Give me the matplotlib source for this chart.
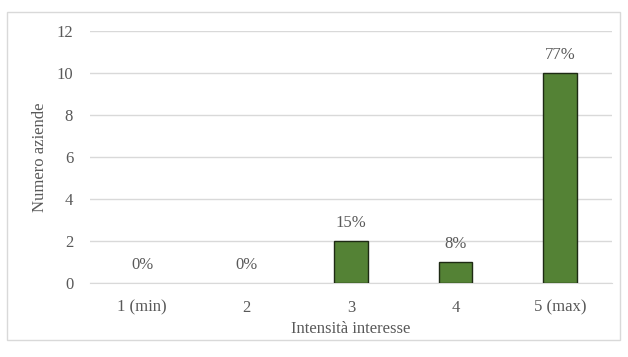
import matplotlib
matplotlib.use("Agg")
import matplotlib.pyplot as plt
from matplotlib.patches import Rectangle

categories = ["1 (min)", "2", "3", "4", "5 (max)"]
counts = [0, 0, 2, 1, 10]
percent_labels = ["0%", "0%", "15%", "8%", "77%"]

plt.rcParams["font.family"] = ["Liberation Serif", "DejaVu Serif"]
txt = "#595959"

fig = plt.figure(figsize=(6.28, 3.57), dpi=100)
fig.patches.append(Rectangle((7 / 628, 1 - 340 / 357), 613 / 628, 328 / 357,
                             transform=fig.transFigure, fill=False,
                             edgecolor="#d9d9d9", linewidth=1))
ax = fig.add_axes([0.143, 0.207, 0.832, 0.706])

x = range(len(categories))
bars = ax.bar(x, counts, width=0.32, color="#548235", edgecolor="#1e2a14",
              linewidth=1.0, zorder=3)
for b, c in zip(bars, counts):
    if c == 0:
        b.set_visible(False)
for xi, c, lab in zip(x, counts, percent_labels):
    ax.annotate(lab, (xi, c), textcoords="offset points", xytext=(0, 7),
                ha="center", va="bottom", fontsize=12, color=txt)

ax.set_xlim(-0.5, len(categories) - 0.5)
ax.set_ylim(0, 12)
ax.set_yticks(range(0, 13, 2))
ax.set_xticks(list(x))
ax.set_xticklabels(categories)
ax.grid(axis="y", color="#d9d9d9", linewidth=1, zorder=0)
for s in ["top", "right", "left"]:
    ax.spines[s].set_visible(False)
ax.spines["bottom"].set_color("#d9d9d9")
ax.tick_params(length=0, labelsize=12, labelcolor=txt, pad=12)
ax.tick_params(axis="y", pad=12)
ax.set_xlabel("Intensità interesse", fontsize=12, color=txt, labelpad=4)
ax.set_ylabel("Numero aziende", fontsize=12, color=txt, labelpad=6)

fig.savefig("out.png", dpi=100)
